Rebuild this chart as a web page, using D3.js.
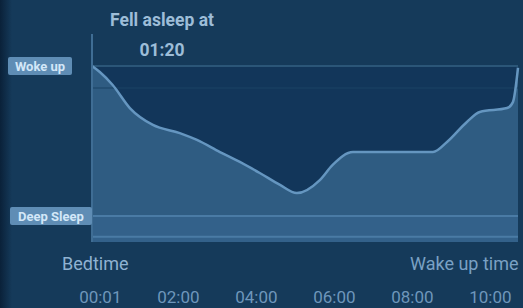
<!DOCTYPE html>
<html><head><meta charset="utf-8">
<script src="https://cdn.jsdelivr.net/npm/d3@7"></script>
<style>
html,body{margin:0;padding:0;background:#153a5a;overflow:hidden;}
text{font-family:Roboto, "DejaVu Sans", sans-serif;}
</style></head>
<body><svg id="c" width="523" height="308"></svg>
<script>
// Sleep curve: hours after midnight and sleep level (100 = awake, low = deep)
const hours  = [-0.2, 0, 0.33, 0.77, 1.36, 2.05, 2.49, 3.08, 3.59, 4.10, 4.62, 5.05, 5.64, 5.97, 6.49, 8.54, 8.90, 9.41, 9.74, 10.44, 10.59, 10.72];
const levels = [100, 96.6, 89.2, 76.1, 66.5, 61.9, 58.0, 51.1, 45.5, 39.2, 32.4, 27.8, 35.2, 43.8, 51.1, 51.1, 56.8, 68.2, 73.9, 76.1, 79.5, 99];
const tickHours = [0, 2, 4, 6, 8, 10];
const tickLabels = ["00:01", "02:00", "04:00", "06:00", "08:00", "10:00"];
const levelLabels = ["Woke up", "Deep Sleep"];
const levelValues = [100, 14.8];
const fellAsleep = ["Fell asleep at", "01:20"];
const axisEnds = ["Bedtime", "Wake up time"];

const svg = d3.select("#c");
const W = 523, H = 308;
const x = d3.scaleLinear().domain([-0.2, 10.72]).range([92, 518]);
const y = d3.scaleLinear().domain([0, 100]).range([242, 66]);

const defs = svg.append("defs");
const g1 = defs.append("linearGradient").attr("id","lg").attr("x1","0").attr("x2","1");
g1.append("stop").attr("offset","0").attr("stop-color","#0a2139");
g1.append("stop").attr("offset","1").attr("stop-color","#153a5a");
svg.append("rect").attr("width",W).attr("height",H).attr("fill","#153a5a");
svg.append("rect").attr("width",12).attr("height",H).attr("fill","url(#lg)");

svg.append("rect").attr("x",x(-0.2)).attr("y",y(100)).attr("width",x(10.72)-x(-0.2)).attr("height",y(0)-y(100)).attr("fill","#12365a");

const pts = hours.map((h,i)=>[h, levels[i]]);
const area = d3.area().x(d=>x(d[0])).y0(y(0)).y1(d=>y(d[1])).curve(d3.curveMonotoneX);
const line = d3.line().x(d=>x(d[0])).y(d=>y(d[1])).curve(d3.curveMonotoneX);

svg.append("path").datum(pts).attr("d",area).attr("fill","#2f5c82");

svg.append("rect").attr("x",x(-0.2)).attr("y",y(14.8)).attr("width",x(10.72)-x(-0.2)).attr("height",y(0)-y(14.8)).attr("fill","#33618a");

[100, 14.8, 3].forEach((v,i)=>{
  svg.append("line").attr("x1",x(-0.2)).attr("x2",x(10.72)).attr("y1",y(v)).attr("y2",y(v))
    .attr("stroke", i===0 ? "#2b5678" : "#4a7ba5").attr("stroke-width",2);
});
svg.append("line").attr("x1",x(-0.2)).attr("x2",x(10.72)).attr("y1",y(87.5)).attr("y2",y(87.5))
  .attr("stroke","#1a4265").attr("stroke-width",1);

svg.append("path").datum(pts).attr("d",line).attr("fill","none").attr("stroke","#6596c0").attr("stroke-width",2.5);

svg.append("line").attr("x1",x(-0.2)).attr("x2",x(-0.2)).attr("y1",34).attr("y2",y(0))
  .attr("stroke","#3f6d94").attr("stroke-width",2);

// title
svg.append("text").attr("x",162).attr("y",26).attr("text-anchor","middle").attr("fill","#9dbdd8")
  .attr("font-size",17.5).attr("font-weight","bold").text(fellAsleep[0]);
svg.append("text").attr("x",162).attr("y",56).attr("text-anchor","middle").attr("fill","#9dbdd8")
  .attr("font-size",17.5).attr("font-weight","bold").text(fellAsleep[1]);

// level labels in boxes
const boxes = [[8, 64], [10, 82]];
levelLabels.forEach((t,i)=>{
  const cy = y(levelValues[i]);
  svg.append("rect").attr("x",boxes[i][0]).attr("y",cy-9).attr("width",boxes[i][1]).attr("height",18)
    .attr("rx",2).attr("fill","#5f8db5");
  svg.append("text").attr("x",boxes[i][0]+boxes[i][1]/2).attr("y",cy+5).attr("text-anchor","middle")
    .attr("fill","#d3e7f8").attr("font-size",13).attr("font-weight","bold").text(t);
});

svg.append("text").attr("x",62).attr("y",270).attr("fill","#8fb2d2").attr("font-size",18).text(axisEnds[0]);
svg.append("text").attr("x",410).attr("y",270).attr("fill","#7aa1c4").attr("font-size",18).text(axisEnds[1]);

const ax = d3.axisBottom(x).tickValues(tickHours).tickFormat((d,i)=>tickLabels[i]).tickSize(0).tickPadding(0);
const axg = svg.append("g").attr("transform","translate(0,288)").call(ax);
axg.select(".domain").remove();
axg.selectAll("text").attr("fill","#6e96bb").attr("font-size",17).attr("font-family","Roboto, sans-serif")
  .attr("dy","0.9em");
</script></body></html>
